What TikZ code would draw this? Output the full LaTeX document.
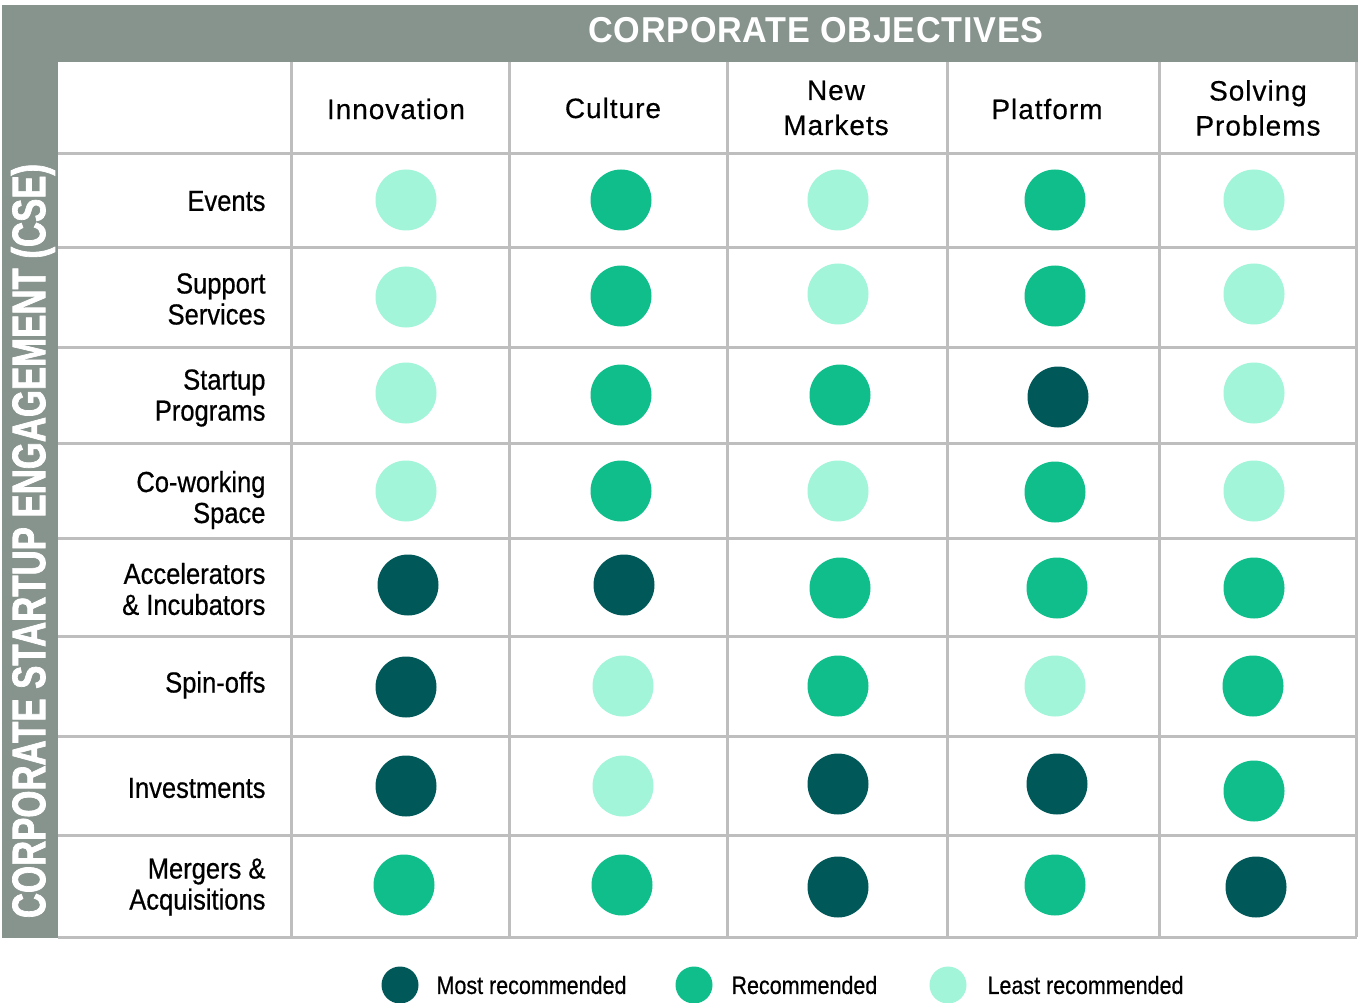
\documentclass[tikz,border=0pt]{standalone}
\usepackage{fontspec}
\setmainfont{Liberation Sans}
\newfontfamily\colfont{Liberation Sans}[LetterSpace=3.5,FakeBold=0.4]
\newfontfamily\rowfont{Liberation Sans}[FakeStretch=0.88,FakeBold=0.6]
\newfontfamily\legfont{Liberation Sans}[FakeStretch=0.86,FakeBold=0.5]
\newfontfamily\titlefont{Liberation Sans}[FakeStretch=0.95,LetterSpace=2]
\newfontfamily\sidefont{Liberation Sans}[FakeStretch=0.74,FakeBold=1.5]
\definecolor{band}{RGB}{135,147,141}
\definecolor{gridc}{RGB}{190,190,190}
\definecolor{most}{RGB}{1,88,89}
\definecolor{rec}{RGB}{16,190,140}
\definecolor{least}{RGB}{162,245,217}
\begin{document}
\begin{tikzpicture}[x=1pt,y=-1pt,
  gridline/.style={draw=gridc,line width=3pt},
  dotbase/.style={circle,inner sep=0pt,minimum size=61pt},
  M/.style={dotbase,fill=most},
  R/.style={dotbase,fill=rec},
  L/.style={dotbase,fill=least},
  legdot/.style={circle,inner sep=0pt,minimum size=37pt},
  colhead/.style={font=\colfont\fontsize{28}{35}\selectfont,align=center,text=black},
  rowhead/.style={font=\rowfont\fontsize{29}{31}\selectfont,align=right,anchor=east,text=black},
  legtext/.style={font=\legfont\fontsize{25}{28}\selectfont,anchor=west,text=black}]
\useasboundingbox (0,0) rectangle (1358,1003);
\fill[white] (0,0) rectangle (1358,1003);
% gray frame
\fill[band] (2,5) rectangle (1358,62);
\fill[band] (2,5) rectangle (58,938);
% grid
\foreach \y in {154,248,347,443,538,636,736,835,937}
  \draw[gridline] (58,\y) -- (1357,\y);
\foreach \x in {291,509,727,947,1159,1356}
  \draw[gridline] (\x,62) -- (\x,937);
% titles
\node[text=white,font=\titlefont\bfseries\fontsize{36}{40}\selectfont] (title) at (816,30) {CORPORATE OBJECTIVES};
\node[text=white,rotate=90,font=\sidefont\bfseries\fontsize{47}{50}\selectfont] (side) at (33,541) {CORPORATE STARTUP ENGAGEMENT (CSE)};
% column headers
\node[colhead] (c1) at (396,109) {Innovation};
\node[colhead] (c2) at (613,108) {Culture};
\node[colhead] (c3) at (836,108) {New\\Markets};
\node[colhead] (c4) at (1047,109) {Platform};
\node[colhead] (c5) at (1258,108) {Solving\\Problems};
% row headers
\node[rowhead] (r1) at (269,201) {Events};
\node[rowhead] (r2) at (269,299) {Support\\Services};
\node[rowhead] (r3) at (269,398) {Startup\\Programs};
\node[rowhead] (r4) at (269,500) {Co-working\\Space};
\node[rowhead] (r5) at (269,589) {Accelerators\\\& Incubators};
\node[rowhead] (r6) at (269,685) {Spin-offs};
\node[rowhead] (r7) at (269,788) {Investments};
\node[rowhead] (r8) at (269,887) {Mergers \&\\Acquisitions};
% dots
\foreach \s/\x/\y/\n in {
  L/406/200/11, R/621/200/12, L/838/200/13, R/1055/200/14, L/1254/200/15,
  L/406/297/21, R/621/296/22, L/838/294/23, R/1055/296/24, L/1254/294/25,
  L/406/393/31, R/621/395/32, R/840/395/33, M/1058/397/34, L/1254/393/35,
  L/406/491/41, R/621/491/42, L/838/491/43, R/1055/492/44, L/1254/491/45,
  M/408/585/51, M/624/585/52, R/840/588/53, R/1057/588/54, R/1254/588/55,
  M/406/687/61, L/623/686/62, R/838/686/63, L/1055/686/64, R/1253/686/65,
  M/406/786/71, L/623/786/72, M/838/784/73, M/1057/784/74, R/1254/791/75,
  R/404/885/81, R/622/885/82, M/838/887/83, R/1055/885/84, M/1256/887/85}
  \node[\s] (d\n) at (\x,\y) {};
% legend
\node[legdot,fill=most] (lm) at (400,985) {};
\node[legtext] (tm) at (433,985) {Most recommended};
\node[legdot,fill=rec] (lr) at (694,985) {};
\node[legtext] (tr) at (728,985) {Recommended};
\node[legdot,fill=least] (ll) at (948,985) {};
\node[legtext] (tl) at (984,985) {Least recommended};
\end{tikzpicture}
\end{document}
